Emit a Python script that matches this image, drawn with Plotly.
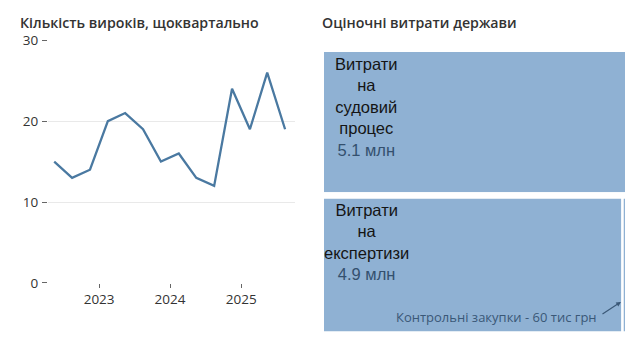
import plotly.graph_objects as go

# Quarterly verdict counts (points plotted at mid-quarter)
quarters = ["2022-05-15", "2022-08-15", "2022-11-15", "2023-02-15", "2023-05-15",
            "2023-08-15", "2023-11-15", "2024-02-15", "2024-05-15", "2024-08-15",
            "2024-11-15", "2025-02-15", "2025-05-15", "2025-08-15"]
verdicts = [15, 13, 14, 20, 21, 19, 15, 16, 13, 12, 24, 19, 26, 19]

# Estimated state costs, mln UAH
cost_ids = ["sud", "grp", "exp", "ctrl"]
cost_parents = ["", "", "grp", "grp"]
cost_names = ["Витрати на судовий процес", "", "Витрати на експертизи", "Контрольні закупки"]
cost_lines = [["Витрати", "на", "судовий", "процес"], [], ["Витрати", "на", "експертизи"], []]
cost_values = [5.1, 4.96, 4.9, 0.06]
cost_text = ["5.1 млн", "", "4.9 млн", "60 тис грн"]

W, H = 640, 346
BLUE = "#4a79a1"
BOX = "#8fb1d3"
TXT = "#333333"
VAL = "#34506e"

# treemap area in pixels (left, right, top, bottom)
TM_L, TM_R, TM_T, TM_B = 322.8, 626.2, 39.8, 341.2
LINE_W = 2.4
PAD_T = 4

fig = go.Figure()

fig.add_trace(go.Scatter(
    x=quarters, y=verdicts, mode="lines",
    line=dict(color=BLUE, width=2.3),
    xaxis="x", yaxis="y", showlegend=False, hoverinfo="x+y",
))

fig.add_trace(go.Treemap(
    ids=cost_ids, parents=cost_parents, labels=cost_names, values=cost_values,
    text=cost_text, branchvalues="total", textinfo="none",
    hovertemplate="%{label}: %{text}<extra></extra>",
    marker=dict(colors=[BOX, "white", BOX, BOX],
                line=dict(color="white", width=LINE_W),
                pad=dict(t=PAD_T, l=0, r=0, b=0)),
    tiling=dict(packing="dice-slice", pad=0),
    pathbar=dict(visible=False),
    domain=dict(x=[TM_L / W, TM_R / W], y=[1 - TM_B / H, 1 - TM_T / H]),
    sort=True, root=dict(color="white"),
))


def px_x(v):
    return v / W


def px_y(v):
    return 1 - v / H


# tile tops follow the treemap split of the two top-level groups
inner_h = TM_B - TM_T - PAD_T
top_share = cost_values[0] / (cost_values[0] + cost_values[1])
tile_tops = {
    0: TM_T + PAD_T + LINE_W / 2,
    2: TM_T + PAD_T + inner_h * top_share + PAD_T + LINE_W / 2,
}

annotations = [
    dict(text="Кількість вироків, щоквартально", xref="paper", yref="paper",
         x=px_x(18), y=px_y(14), xanchor="left", yanchor="middle", showarrow=False,
         font=dict(family="Open Sans", size=14.2, color=TXT, weight=600)),
    dict(text="Оціночні витрати держави", xref="paper", yref="paper",
         x=px_x(320), y=px_y(14), xanchor="left", yanchor="middle", showarrow=False,
         font=dict(family="Open Sans", size=14.2, color=TXT, weight=600)),
]

# tile labels: name split over lines, value underneath in a darker blue
for i, top in tile_tops.items():
    cx = TM_L + LINE_W / 2 + 42
    label = "<br>".join(cost_lines[i]) + \
        "<br><span style='color:%s'>%s</span>" % (VAL, cost_text[i])
    annotations.append(dict(
        text=label, xref="paper", yref="paper", x=px_x(cx), y=px_y(top + 1),
        xanchor="center", yanchor="top", align="center", showarrow=False,
        font=dict(family="Liberation Sans, Arial", size=16.5, color="#151515")))

# callout for the tiny control-purchase tile
annotations.append(dict(
    text=cost_names[3] + " - " + cost_text[3], xref="paper", yref="paper",
    x=px_x(599), y=px_y(325), xanchor="right", yanchor="middle", showarrow=False,
    font=dict(family="Open Sans", size=13, color="#3a5877")))
annotations.append(dict(
    text="", xref="paper", yref="paper", x=px_x(621), y=px_y(309),
    showarrow=True, ax=-20, ay=13, arrowhead=2, arrowsize=0.8,
    arrowwidth=1.2, arrowcolor="#3a5877", standoff=0))

fig.update_layout(
    width=W, height=H,
    margin=dict(l=0, r=0, t=0, b=0),
    paper_bgcolor="white", plot_bgcolor="white",
    font=dict(family="Open Sans", color=TXT, size=13),
    xaxis=dict(
        domain=[48 / W, 295 / W],
        range=["2022-04-13", "2025-10-05"],
        type="date", dtick="M12", tick0="2023-01-01", tickformat="%Y",
        ticks="outside", ticklen=4, tickcolor="#666", showgrid=False,
        zeroline=False, showline=False, tickfont=dict(size=13.5, color=TXT),
    ),
    yaxis=dict(
        domain=[1 - 289 / H, 1 - 33 / H], range=[0, 30], tickvals=[0, 10, 20, 30],
        ticks="outside", ticklen=5, tickcolor="#666",
        ticklabelstandoff=1,
        showgrid=True, gridcolor="#e9e9e9", gridwidth=1.3,
        zeroline=False, showline=False, tickfont=dict(size=13.5, color=TXT),
    ),
    annotations=annotations,
)

fig.write_html("out.html")
